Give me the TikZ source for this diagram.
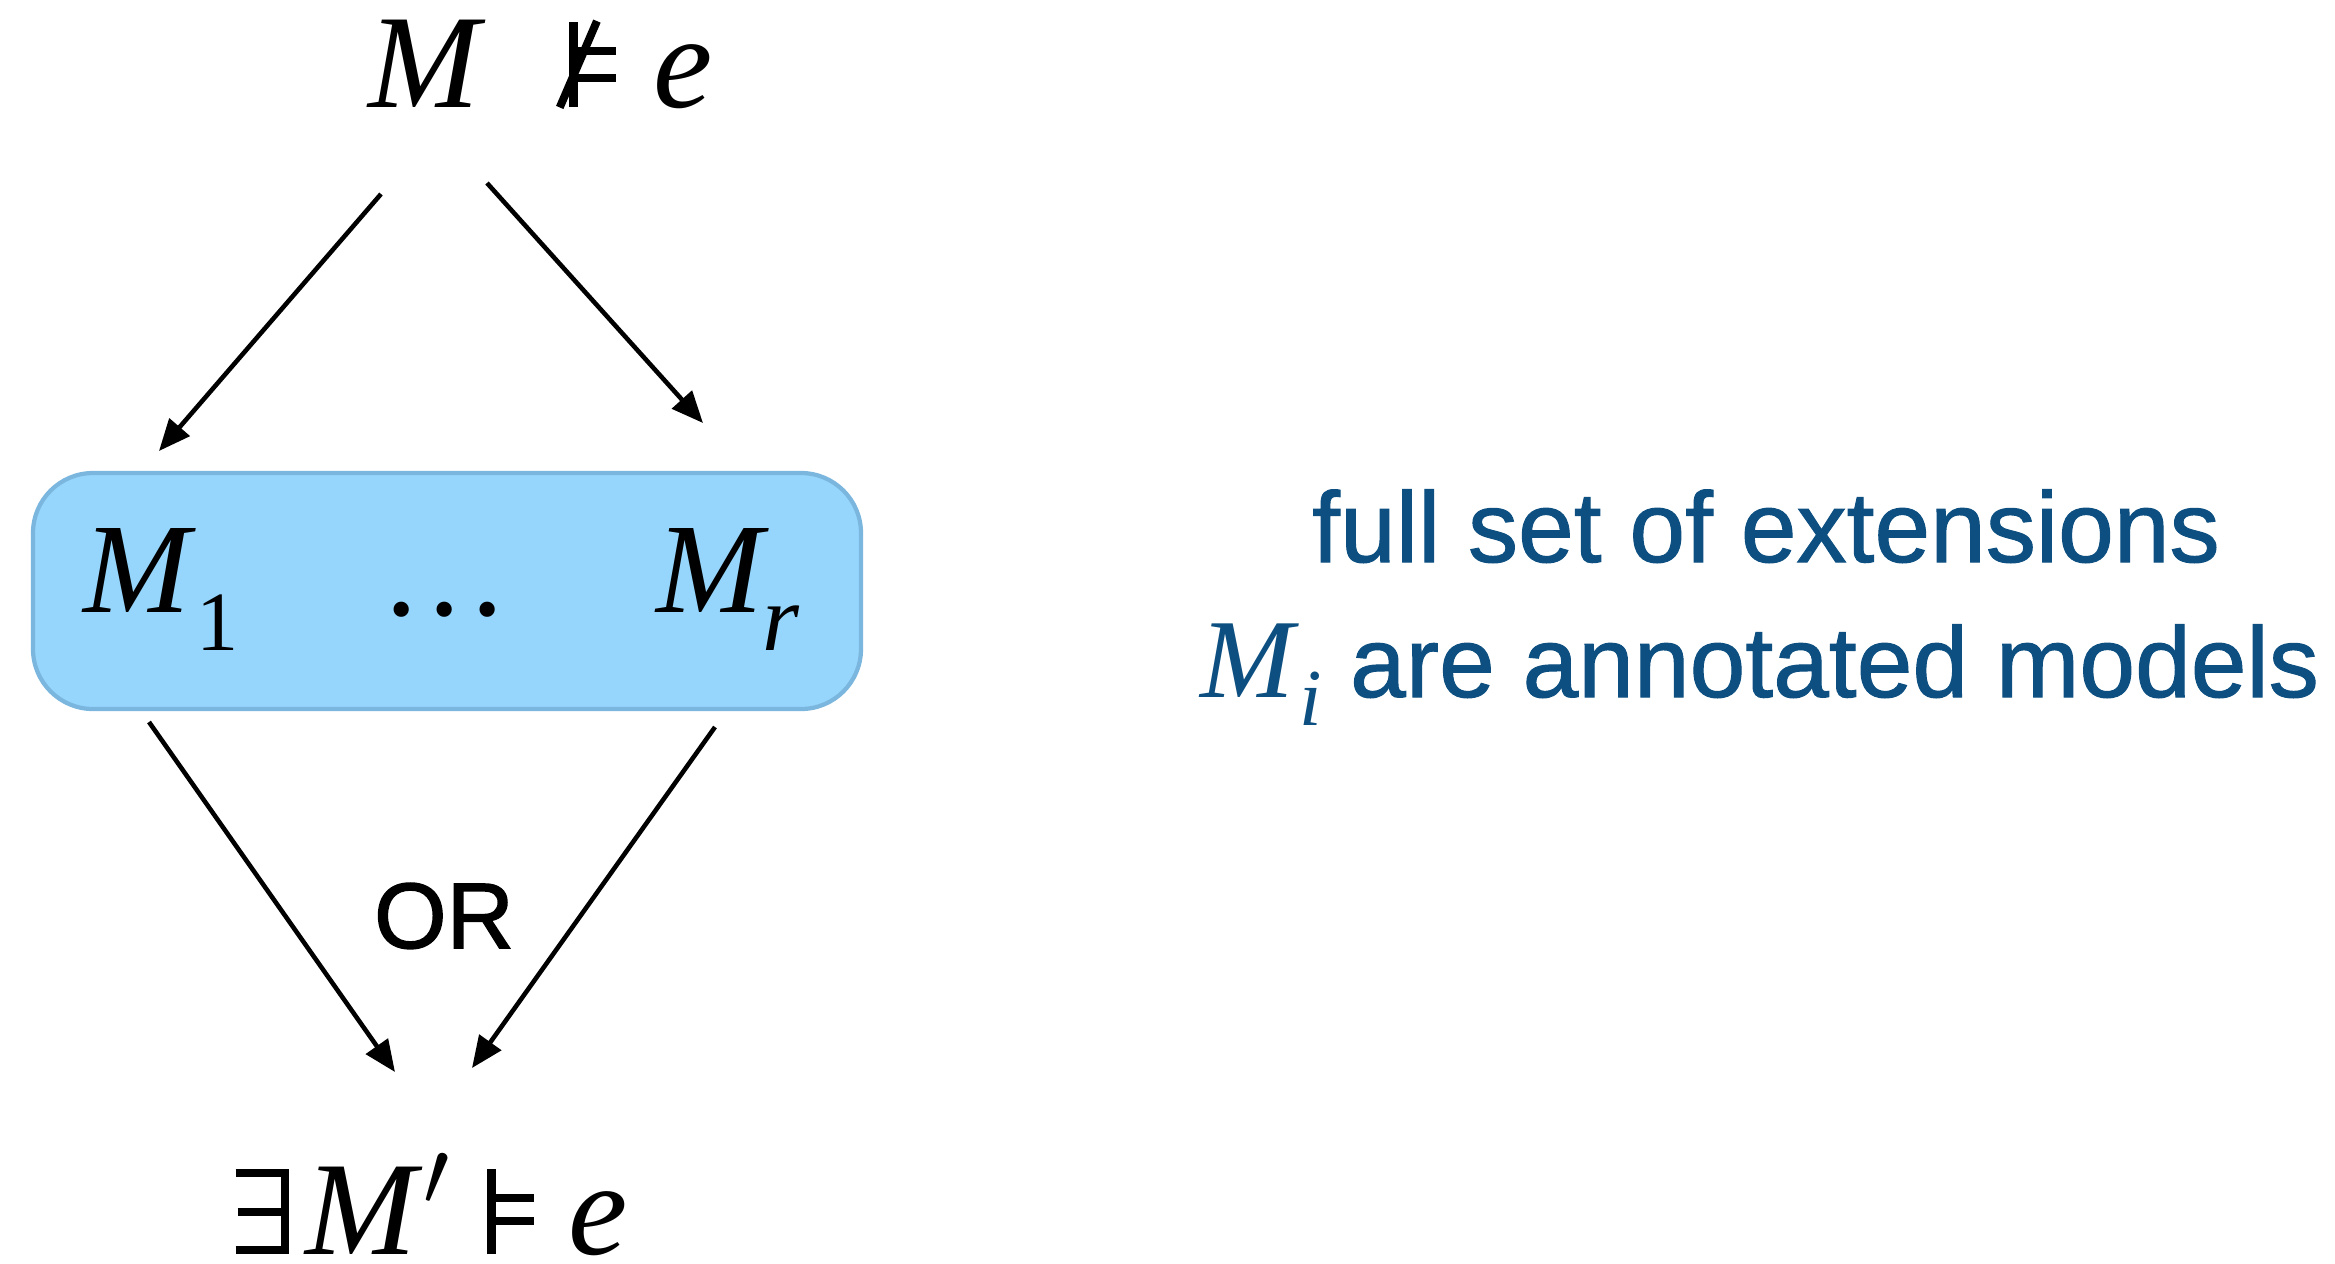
\RequirePackage{fix-cm}
\documentclass[tikz,border=0pt]{standalone}
\usepackage{fontspec}
\setmainfont{Liberation Serif}
\newfontfamily\notefont[FakeBold=1]{Liberation Sans}
\newfontfamily\orfont[FakeBold=1.6]{Liberation Sans}
\usetikzlibrary{arrows.meta,positioning}
\definecolor{boxblue}{RGB}{150,214,252}
\definecolor{boxedge}{RGB}{122,182,222}
\definecolor{noteblue}{RGB}{12,79,128}
\newcommand{\turnstile}[1]{\rule{0.09cm}{0.85cm}\rule[#1]{0.38cm}{0.08cm}\hspace{-0.38cm}\rule[0.52cm]{0.38cm}{0.08cm}}
\newcommand{\sat}{\turnstile{0.29cm}}
\newcommand{\nsat}{\makebox[0pt][l]{\raisebox{-0.02cm}{\rotatebox{66.7}{\rule{0.94cm}{0.08cm}}}}\makebox[0.60cm][l]{\hspace{0.13cm}\turnstile{0.25cm}}}
\newcommand{\exist}{\makebox[0.53cm][l]{\rule{0.45cm}{0.08cm}\hspace{-0.45cm}\rule[0.77cm]{0.45cm}{0.08cm}\hspace{-0.43cm}\rule[0.385cm]{0.43cm}{0.08cm}\rule{0.08cm}{0.85cm}}}
\newcommand{\lowsub}[2][11pt]{\raisebox{-#1}{\fontsize{24}{24}\selectfont #2}}

\begin{document}
\begin{tikzpicture}[
    formula/.style={inner sep=0pt, font=\fontsize{38}{42}\selectfont},
    modelbox/.style={rectangle, draw=boxedge, line width=1.2pt, fill=boxblue, rounded corners=0.6cm, minimum width=8.28cm, minimum height=2.36cm},
    notetext/.style={inner sep=0pt, text=noteblue, font=\notefont\fontsize{28.5}{34}\selectfont},
    arrow/.style={-{Triangle[length=9pt,width=7.5pt]}, line width=1.3pt}
  ]
    \useasboundingbox (0,0) rectangle (23.35,-12.63);

    \node[formula, anchor=base west] (claim) at (3.68,-1.07) {\textit{M}\hspace{0.70cm}\nsat\hspace{0.37cm}\textit{e}};
    \node[modelbox] (models) at (4.47,-5.91) {};
    \node[formula, anchor=base west, font=\fontsize{36.5}{40}\selectfont] (m1) at (0.83,-6.12) {\textit{M}\lowsub{1}};
    \node[formula, anchor=base, font=\fontsize{36.5}{40}\selectfont] (dots) at (4.45,-6.15) {\ldots};
    \node[formula, anchor=base west, font=\fontsize{36.5}{40}\selectfont] (mr) at (6.56,-6.12) {\textit{M}\kern-2pt\lowsub{\fontsize{27}{27}\selectfont\itshape r}};
    \node[formula, anchor=base, font=\orfont\fontsize{26.5}{30}\selectfont] (or) at (4.44,-9.48) {OR};
    \node[formula, anchor=base west] (witness) at (2.35,-12.54) {\exist\hspace{0.17cm}\textit{M}$'$\hspace{0.36cm}\sat\hspace{0.35cm}\textit{e}};

    \node[notetext, anchor=base] (ext) at (17.66,-5.62) {full set of extensions};
    \node[notetext, anchor=base] (annot) at (17.60,-6.97) {{\rmfamily\fontsize{32}{34}\selectfont\textit{M}\raisebox{-8pt}{\fontsize{23}{23}\selectfont\itshape i}} are annotated models};

    \coordinate (claimL) at (3.81,-1.94);
    \coordinate (claimR) at (4.87,-1.83);
    \coordinate (m1top) at (1.59,-4.51);
    \coordinate (mrtop) at (7.03,-4.23);
    \coordinate (m1bot) at (1.49,-7.22);
    \coordinate (mrbot) at (7.15,-7.27);
    \coordinate (witL) at (3.95,-10.72);
    \coordinate (witR) at (4.72,-10.68);

    \draw[arrow] (claimL) -- (m1top);
    \draw[arrow] (claimR) -- (mrtop);
    \draw[arrow] (m1bot) -- (witL);
    \draw[arrow] (mrbot) -- (witR);
  \end{tikzpicture}
\end{document}
